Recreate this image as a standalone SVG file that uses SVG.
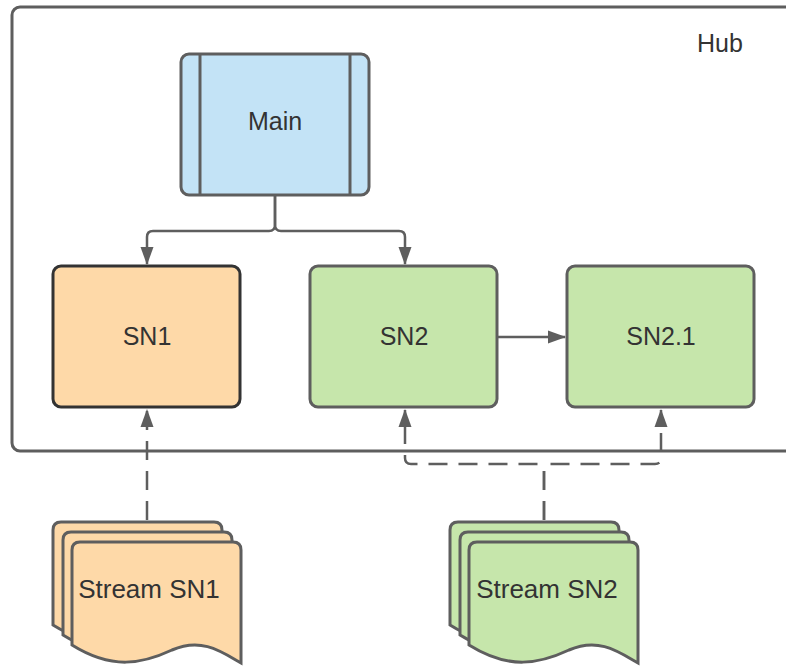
<svg xmlns="http://www.w3.org/2000/svg" width="786" height="666" viewBox="0 0 786 666">
<defs>
<style>
.t{font-family:"Liberation Sans",Arial,sans-serif;font-size:25px;fill:#333;text-anchor:middle}
.s{font-size:26px}
.n{stroke:#5e5e5e;stroke-width:3}
.c{fill:none;stroke:#5e5e5e;stroke-width:2.5}
.d{stroke-dasharray:19,11}
</style>
<marker id="ah" viewBox="0 0 18 14" refX="17" refY="7" markerWidth="18" markerHeight="14" markerUnits="userSpaceOnUse" orient="auto">
<path d="M0,0.5 L18,7 L0,13.5 Z" fill="#5e5e5e"/>
</marker>
<path id="doc" d="M0,8 Q0,0 8,0 H161 Q169,0 169,8 V121 C150,110 130,95 100,108 C70,122 40,128 0,103 Z"/>
</defs>
<g id="hub">
<rect x="12" y="7" width="800" height="444" rx="8" fill="#fff" class="n"/>
<text class="t" x="720" y="52">Hub</text>
</g>
<g id="connectors">
<path class="c" d="M275,196 V225 Q275,231 269,231 H153 Q147,231 147,237 V264" marker-end="url(#ah)"/>
<path class="c" d="M275,196 V225 Q275,231 281,231 H399 Q405,231 405,237 V264" marker-end="url(#ah)"/>
<path class="c" d="M497,337 H565" marker-end="url(#ah)"/>
<path class="c d" d="M147,520 V410" marker-end="url(#ah)"/>
<path class="c d" d="M544,520 V470 Q544,464 538,464 H411 Q405,464 405,458 V410" marker-end="url(#ah)"/>
<path class="c d" d="M544,520 V470 Q544,464 550,464 H655 Q661,464 661,458 V410" marker-end="url(#ah)"/>
</g>
<g id="main">
<rect x="181" y="54" width="188" height="141" rx="8" fill="#c3e3f6" class="n"/>
<line x1="200" y1="54" x2="200" y2="195" class="n"/>
<line x1="350" y1="54" x2="350" y2="195" class="n"/>
<text class="t" x="275" y="130">Main</text>
</g>
<g id="sn1">
<rect x="53" y="266" width="187" height="141" rx="8" fill="#fed9a8" stroke="#333" stroke-width="3"/>
<text class="t" x="147" y="345">SN1</text>
</g>
<g id="sn2">
<rect x="310" y="266" width="187" height="141" rx="8" fill="#c6e6ab" class="n"/>
<text class="t" x="404" y="345">SN2</text>
</g>
<g id="sn21">
<rect x="567" y="266" width="187" height="141" rx="8" fill="#c6e6ab" class="n"/>
<text class="t" x="661" y="345">SN2.1</text>
</g>
<g id="stream-sn1" fill="#fed9a8" stroke="#5e5e5e" stroke-width="3">
<use href="#doc" x="53" y="522"/>
<use href="#doc" x="63" y="532"/>
<use href="#doc" x="72" y="542"/>
<text class="t s" x="149" y="598" stroke="none">Stream SN1</text>
</g>
<g id="stream-sn2" fill="#c6e6ab" stroke="#5e5e5e" stroke-width="3">
<use href="#doc" x="450" y="522"/>
<use href="#doc" x="460" y="532"/>
<use href="#doc" x="469" y="542"/>
<text class="t s" x="547" y="598" stroke="none">Stream SN2</text>
</g>
</svg>
